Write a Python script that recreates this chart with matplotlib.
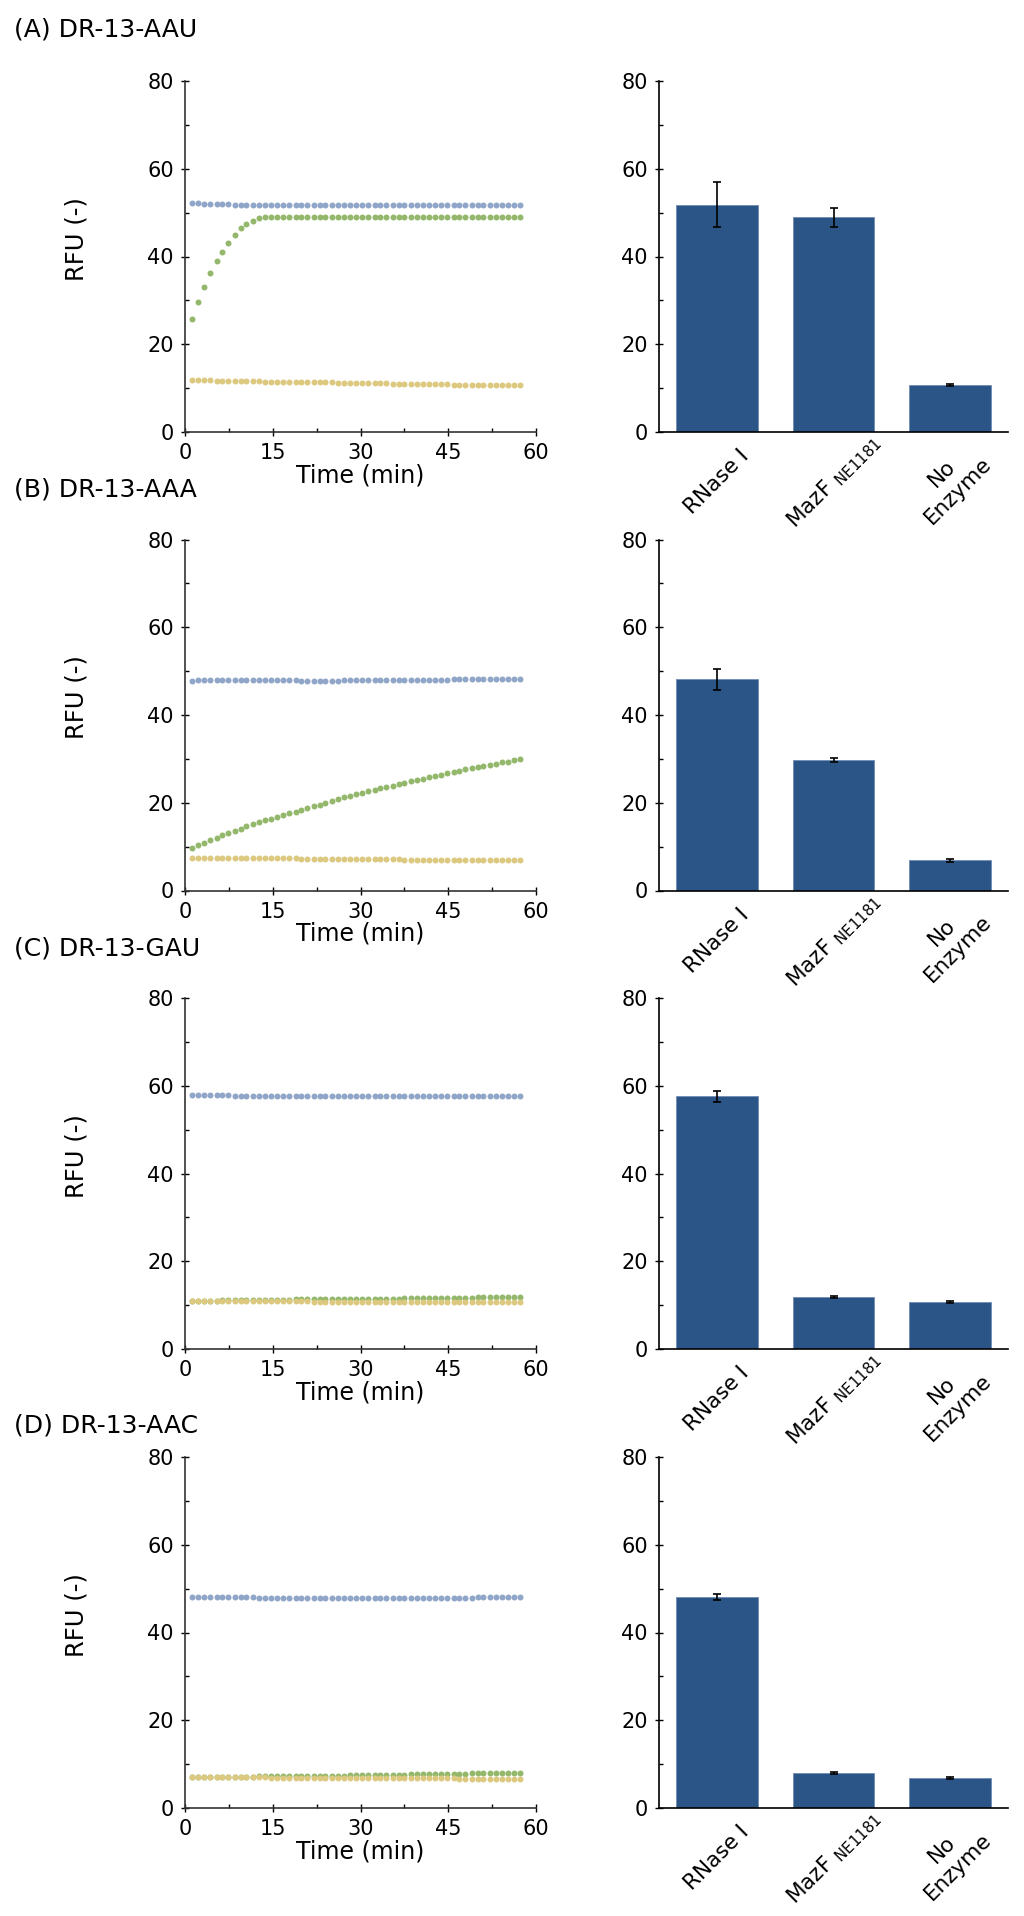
import matplotlib
matplotlib.use("Agg")
import matplotlib.pyplot as plt
from matplotlib.ticker import MultipleLocator

plt.rcParams['font.family'] = ['DejaVu Sans']
plt.rcParams['mathtext.default'] = 'regular'

# 时间点 (min)
t_min = [1.2, 2.2, 3.3, 4.3, 5.4, 6.4, 7.4, 8.5, 9.5, 10.5, 11.6, 12.6, 13.7, 14.7,
         15.7, 16.8, 17.8, 18.9, 19.9, 20.9, 22.0, 23.0, 24.0, 25.1, 26.1, 27.2,
         28.2, 29.2, 30.3, 31.3, 32.4, 33.4, 34.4, 35.5, 36.5, 37.5, 38.6, 39.6,
         40.7, 41.7, 42.7, 43.8, 44.8, 45.9, 46.9, 47.9, 49.0, 50.0, 51.0, 52.1,
         53.1, 54.2, 55.2, 56.2, 57.3]

titles = ['(A) DR-13-AAU', '(B) DR-13-AAA', '(C) DR-13-GAU', '(D) DR-13-AAC']

# (A) DR-13-AAU
a_rnase = [52.1, 52.1, 52.0, 52.0, 51.9, 51.9, 51.9, 51.8, 51.8, 51.8, 51.8,
           51.7, 51.7, 51.7, 51.7, 51.7, 51.7, 51.7, 51.7, 51.7, 51.7, 51.7,
           51.7, 51.7, 51.7, 51.7, 51.7, 51.7, 51.7, 51.7, 51.7, 51.7, 51.7,
           51.7, 51.7, 51.7, 51.7, 51.7, 51.7, 51.7, 51.7, 51.7, 51.7, 51.7,
           51.7, 51.8, 51.8, 51.8, 51.8, 51.8, 51.8, 51.8, 51.8, 51.8, 51.8]
a_mazf = [25.7, 29.6, 33.1, 36.2, 38.9, 41.1, 43.1, 44.8, 46.4, 47.5, 48.2,
          48.7, 48.9, 49.0, 49.0, 49.0, 49.0, 49.0, 49.0, 49.0, 49.0, 49.0,
          49.0, 49.0, 49.0, 49.0, 49.0, 49.0, 49.0, 49.0, 49.0, 49.0, 49.0,
          49.0, 49.0, 49.0, 49.0, 49.0, 49.0, 49.0, 48.9, 48.9, 48.9, 48.9,
          48.9, 48.9, 48.9, 48.9, 48.9, 48.9, 48.9, 48.9, 48.9, 48.9, 48.9]
a_none = [11.8, 11.8, 11.8, 11.8, 11.7, 11.7, 11.7, 11.7, 11.6, 11.6, 11.6,
          11.6, 11.5, 11.5, 11.5, 11.5, 11.4, 11.4, 11.4, 11.4, 11.3, 11.3,
          11.3, 11.3, 11.2, 11.2, 11.2, 11.2, 11.1, 11.1, 11.1, 11.1, 11.1,
          11.0, 11.0, 11.0, 11.0, 11.0, 10.9, 10.9, 10.9, 10.9, 10.9, 10.8,
          10.8, 10.8, 10.8, 10.8, 10.8, 10.7, 10.7, 10.7, 10.7, 10.7, 10.7]

# (B) DR-13-AAA
b_rnase = [47.8, 47.9, 47.9, 47.9, 47.9, 47.9, 47.9, 47.9, 47.9, 47.9, 47.9,
           47.9, 47.9, 47.9, 47.9, 47.9, 47.9, 47.9, 47.8, 47.8, 47.8, 47.8,
           47.8, 47.8, 47.8, 47.9, 47.9, 47.9, 47.9, 47.9, 47.9, 47.9, 47.9,
           47.9, 47.9, 47.9, 48.0, 48.0, 48.0, 48.0, 48.0, 48.0, 48.0, 48.1,
           48.1, 48.1, 48.1, 48.1, 48.1, 48.1, 48.2, 48.2, 48.2, 48.2, 48.2]
b_mazf = [9.7, 10.3, 10.9, 11.5, 12.0, 12.6, 13.1, 13.6, 14.1, 14.6, 15.1,
          15.5, 16.0, 16.4, 16.8, 17.2, 17.6, 18.0, 18.4, 18.8, 19.2, 19.6,
          20.0, 20.4, 20.8, 21.2, 21.5, 21.9, 22.2, 22.6, 22.9, 23.3, 23.6,
          23.9, 24.3, 24.6, 24.9, 25.2, 25.5, 25.8, 26.1, 26.4, 26.7, 27.0,
          27.3, 27.6, 27.9, 28.1, 28.4, 28.7, 28.9, 29.2, 29.4, 29.7, 29.9]
b_none = [7.5, 7.5, 7.5, 7.5, 7.5, 7.4, 7.4, 7.4, 7.4, 7.4, 7.4,
          7.3, 7.3, 7.3, 7.3, 7.3, 7.3, 7.3, 7.2, 7.2, 7.2, 7.2,
          7.2, 7.2, 7.2, 7.2, 7.1, 7.1, 7.1, 7.1, 7.1, 7.1, 7.1,
          7.1, 7.1, 7.0, 7.0, 7.0, 7.0, 7.0, 7.0, 7.0, 7.0, 7.0,
          7.0, 7.0, 6.9, 6.9, 6.9, 6.9, 6.9, 6.9, 6.9, 6.9, 6.9]

# (C) DR-13-GAU
c_rnase = [57.8, 57.8, 57.8, 57.8, 57.8, 57.8, 57.8, 57.7, 57.7, 57.7, 57.7,
           57.7, 57.7, 57.7, 57.7, 57.7, 57.7, 57.7, 57.7, 57.7, 57.7, 57.7,
           57.7, 57.7, 57.6, 57.6, 57.6, 57.6, 57.6, 57.6, 57.6, 57.6, 57.6,
           57.6, 57.6, 57.6, 57.6, 57.6, 57.6, 57.6, 57.6, 57.6, 57.6, 57.6,
           57.6, 57.7, 57.7, 57.7, 57.7, 57.7, 57.7, 57.7, 57.7, 57.7, 57.7]
c_mazf = [11.0, 11.0, 11.0, 11.0, 11.0, 11.1, 11.1, 11.1, 11.1, 11.1, 11.1,
          11.2, 11.2, 11.2, 11.2, 11.2, 11.2, 11.3, 11.3, 11.3, 11.3, 11.3,
          11.3, 11.4, 11.4, 11.4, 11.4, 11.4, 11.4, 11.5, 11.5, 11.5, 11.5,
          11.5, 11.5, 11.6, 11.6, 11.6, 11.6, 11.6, 11.6, 11.7, 11.7, 11.7,
          11.7, 11.7, 11.7, 11.8, 11.8, 11.8, 11.8, 11.8, 11.8, 11.9, 11.9]
c_none = [11.0, 11.0, 11.0, 11.0, 11.0, 11.0, 11.0, 11.0, 11.0, 10.9, 10.9,
          10.9, 10.9, 10.9, 10.9, 10.9, 10.9, 10.9, 10.9, 10.9, 10.8, 10.8,
          10.8, 10.8, 10.8, 10.8, 10.8, 10.8, 10.8, 10.8, 10.8, 10.8, 10.7,
          10.7, 10.7, 10.7, 10.7, 10.7, 10.7, 10.7, 10.7, 10.7, 10.7, 10.7,
          10.6, 10.6, 10.6, 10.6, 10.6, 10.6, 10.6, 10.6, 10.6, 10.6, 10.6]

# (D) DR-13-AAC
d_rnase = [48.1, 48.1, 48.1, 48.0, 48.0, 48.0, 48.0, 48.0, 48.0, 48.0, 48.0,
           47.9, 47.9, 47.9, 47.9, 47.9, 47.9, 47.9, 47.9, 47.8, 47.8, 47.8,
           47.8, 47.8, 47.8, 47.8, 47.8, 47.8, 47.8, 47.8, 47.8, 47.8, 47.8,
           47.8, 47.8, 47.8, 47.8, 47.9, 47.9, 47.9, 47.9, 47.9, 47.9, 47.9,
           47.9, 47.9, 47.9, 48.0, 48.0, 48.0, 48.0, 48.0, 48.0, 48.0, 48.0]
d_mazf = [7.0, 7.0, 7.0, 7.0, 7.0, 7.0, 7.1, 7.1, 7.1, 7.1, 7.1,
          7.2, 7.2, 7.2, 7.2, 7.2, 7.3, 7.3, 7.3, 7.3, 7.3, 7.4,
          7.4, 7.4, 7.4, 7.4, 7.5, 7.5, 7.5, 7.5, 7.5, 7.6, 7.6,
          7.6, 7.6, 7.6, 7.7, 7.7, 7.7, 7.7, 7.7, 7.8, 7.8, 7.8,
          7.8, 7.8, 7.9, 7.9, 7.9, 7.9, 7.9, 8.0, 8.0, 8.0, 8.0]
d_none = [7.0, 7.0, 7.0, 7.0, 7.0, 7.0, 7.0, 7.0, 7.0, 7.0, 7.0,
          7.0, 7.0, 6.9, 6.9, 6.9, 6.9, 6.9, 6.9, 6.9, 6.9, 6.9,
          6.9, 6.9, 6.9, 6.9, 6.9, 6.9, 6.8, 6.8, 6.8, 6.8, 6.8,
          6.8, 6.8, 6.8, 6.8, 6.8, 6.8, 6.8, 6.8, 6.8, 6.8, 6.8,
          6.7, 6.7, 6.7, 6.7, 6.7, 6.7, 6.7, 6.7, 6.7, 6.7, 6.7]

kinetics = [(a_rnase, a_mazf, a_none), (b_rnase, b_mazf, b_none),
            (c_rnase, c_mazf, c_none), (d_rnase, d_mazf, d_none)]

# 终点柱状图: RNase I, MazF, No Enzyme
bar_labels = ['RNase I', 'MazF $_{NE1181}$', 'No\nEnzyme']
bar_means = [[51.8, 48.9, 10.7], [48.1, 29.8, 6.9], [57.6, 11.9, 10.7], [48.0, 8.0, 6.9]]
bar_errs = [[5.1, 2.2, 0.3], [2.4, 0.4, 0.3], [1.3, 0.2, 0.2], [0.7, 0.2, 0.2]]

dot_colors = ['#8fa6c9', '#93b86b', '#dcc87e']
bar_color = '#2c5587'

W, H = 1024, 1916
tops = [81, 539.5, 998, 1457]
title_y = [30, 490, 948, 1425]
ax_h = 351

fig = plt.figure(figsize=(W / 100, H / 100), dpi=100)


def style_axis(ax, color):
    for s in ['top', 'right']:
        ax.spines[s].set_visible(False)
    for s in ['left', 'bottom']:
        ax.spines[s].set_color(color)
        ax.spines[s].set_linewidth(1.2)
    ax.tick_params(which='major', direction='inout', length=6, width=1.0,
                   color='black', labelsize=15, pad=5)
    ax.tick_params(which='minor', direction='in', length=3, width=1.0, color='black')
    ax.set_ylim(0, 80)
    ax.yaxis.set_major_locator(MultipleLocator(20))
    ax.yaxis.set_minor_locator(MultipleLocator(10))


for i in range(4):
    bottom = 1 - (tops[i] + ax_h) / H
    ax = fig.add_axes([185 / W, bottom, 351 / W, ax_h / H])
    style_axis(ax, '#333333')
    for y, c in zip(kinetics[i], dot_colors):
        ax.plot(t_min, y, 'o', color=c, markersize=4.3, markeredgewidth=0)
    ax.set_xlim(0, 60)
    ax.xaxis.set_major_locator(MultipleLocator(15))
    ax.xaxis.set_minor_locator(MultipleLocator(7.5))
    ax.set_xlabel('Time (min)', fontsize=17, labelpad=0)
    ax.set_ylabel('RFU (-)', fontsize=17.5)
    ax.yaxis.set_label_coords(-0.275, 0.55)

    bx = fig.add_axes([659 / W, bottom, 349 / W, ax_h / H])
    style_axis(bx, 'black')
    bx.bar(range(3), bar_means[i], width=0.7, color=bar_color,
           edgecolor='#6f8db5', linewidth=0.6)
    bx.errorbar(range(3), bar_means[i], yerr=bar_errs[i], fmt='none',
                ecolor='black', elinewidth=1.2, capsize=2.7, capthick=1.2)
    bx.set_xlim(-0.5, 2.5)
    bx.set_xticks([])
    for j, lab in enumerate(bar_labels):
        bx.text(j, -50 / ax_h, lab, transform=bx.get_xaxis_transform(),
                rotation=45, ha='center', va='center', multialignment='center',
                fontsize=15.5)

    fig.text(14 / W, 1 - title_y[i] / H, titles[i], fontsize=18, va='center', ha='left')

fig.savefig('out.png', dpi=100)
